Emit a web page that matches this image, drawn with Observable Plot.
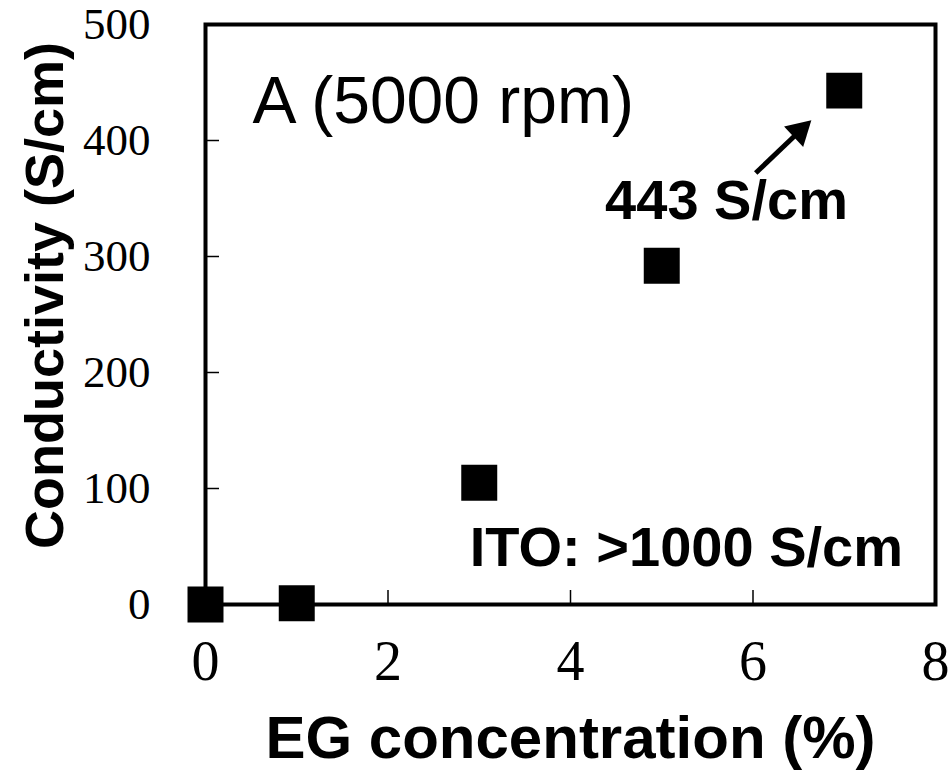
<!DOCTYPE html>
<html><head><meta charset="utf-8">
<script src="https://cdn.jsdelivr.net/npm/d3@7"></script>
<script src="https://cdn.jsdelivr.net/npm/@observablehq/plot@0.6"></script>
<style>body{margin:0;background:#fff} svg{display:block}</style>
</head><body><div id="chart"></div>
<script>
// Data
const egConcentration = [0, 1, 3, 5, 7];
const conductivity = [0, 1, 105, 292, 443];
const xTicks = [0, 2, 4, 6, 8];
const yTicks = [0, 100, 200, 300, 400, 500];
const xInnerTicks = [2, 4, 6];
const yInnerTicks = [100, 200, 300, 400];
const xTitle = "EG concentration (%)";
const yTitle = "Conductivity (S/cm)";
const panelLabel = [{x: 0.515, y: 433, text: "A (5000 rpm)"}];
const peakLabel = [{x: 5.71, y: 348, text: "443 S/cm"}];
const itoLabel = [{x: 5.27, y: 49, text: "ITO: >1000 S/cm"}];
const arrowLine = [{x1: 6.03, y1: 372, x2: 6.51, y2: 408}];
const arrowHead = [{x: 6.51, y: 408}];

const data = egConcentration.map((x, i) => ({x, y: conductivity[i]}));
const sans = "Liberation Sans, Arial, sans-serif";
const serif = "Liberation Serif, Times New Roman, serif";

const chart = Plot.plot({
  width: 952,
  height: 782,
  marginLeft: 205,
  marginRight: 17,
  marginTop: 24,
  marginBottom: 178,
  style: {background: "white", color: "black"},
  x: {domain: [0, 8], label: null},
  y: {domain: [0, 500], label: null},
  marks: [
    Plot.axisX(xTicks, {tickSize: 0, tickPadding: 36, fontSize: 56, fontFamily: serif, label: null}),
    Plot.axisY(yTicks, {tickSize: 0, tickPadding: 55, fontSize: 45, fontFamily: serif, label: null}),
    Plot.axisX(xInnerTicks, {tickSize: -14, tickFormat: () => "", label: null, strokeWidth: 1.5}),
    Plot.axisY(yInnerTicks, {tickSize: -14, tickFormat: () => "", label: null, strokeWidth: 1.5}),
    Plot.frame({stroke: "black", strokeWidth: 4}),
    Plot.dot(data, {x: "x", y: "y", symbol: "square", r: 20.3, fill: "black", stroke: null}),
    Plot.link(arrowLine, {x1: "x1", y1: "y1", x2: "x2", y2: "y2", stroke: "black", strokeWidth: 5}),
    Plot.dot(arrowHead, {x: "x", y: "y", symbol: "triangle", r: 10.4, rotate: 47, fill: "black", stroke: null}),
    Plot.text(panelLabel, {x: "x", y: "y", text: "text", textAnchor: "start", fontSize: 66, fontFamily: sans, fill: "black"}),
    Plot.text(peakLabel, {x: "x", y: "y", text: "text", fontSize: 56, fontWeight: "bold", fontFamily: sans, fill: "black"}),
    Plot.text(itoLabel, {x: "x", y: "y", text: "text", fontSize: 56, fontWeight: "bold", fontFamily: sans, fill: "black"}),
    Plot.text([xTitle], {frameAnchor: "bottom", dy: 153, fontSize: 60, fontWeight: "bold", fontFamily: sans, fill: "black"}),
    Plot.text([yTitle], {frameAnchor: "left", textAnchor: "middle", dx: -160, dy: -19, rotate: -90, fontSize: 54, fontWeight: "bold", fontFamily: sans, fill: "black"})
  ]
});
document.getElementById("chart").appendChild(chart);
</script>
</body></html>
